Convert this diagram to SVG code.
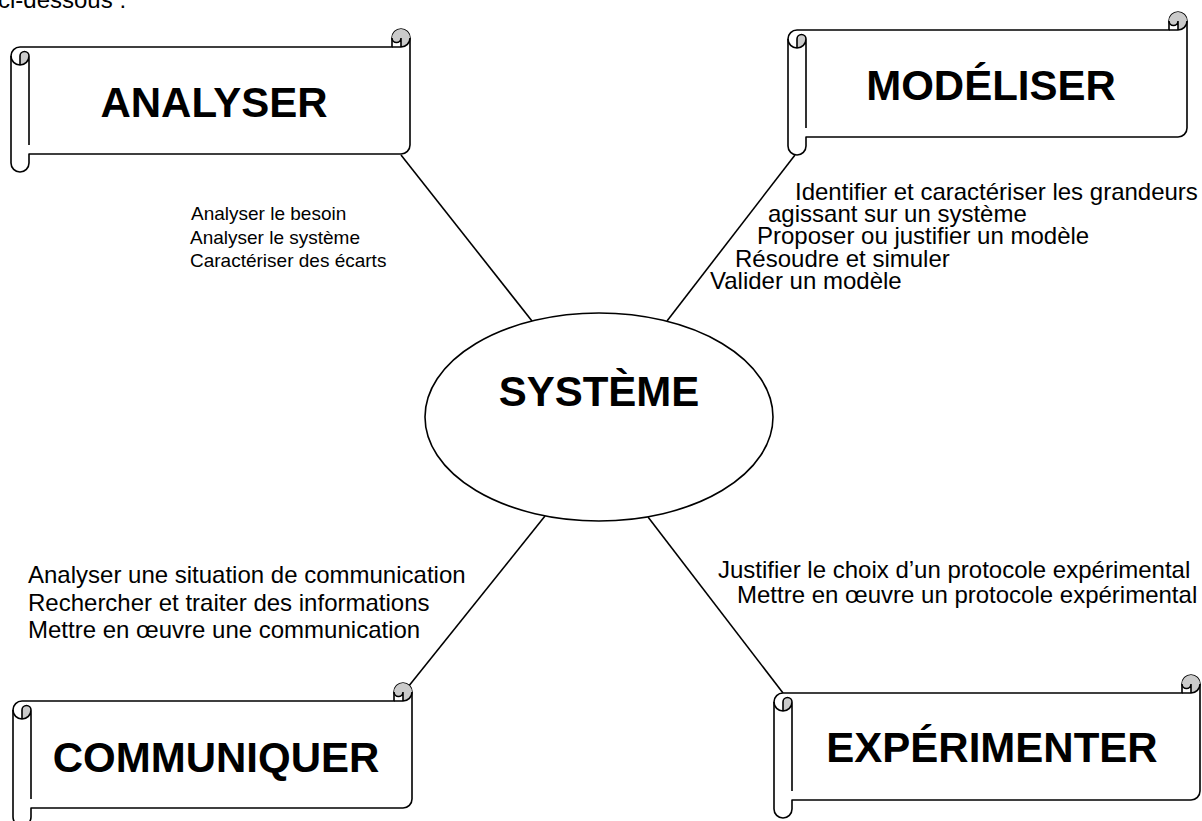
<svg xmlns="http://www.w3.org/2000/svg" xmlns:xlink="http://www.w3.org/1999/xlink" width="1202" height="821" viewBox="0 0 1202 821">
  <style>
    .edge { stroke: #000; stroke-width: 1.6; fill: none; }
    .scroll-body { fill: #fff; stroke: #000; stroke-width: 1.6; stroke-linejoin: round; }
    .scroll-line { fill: none; stroke: #000; stroke-width: 1.6; }
    .scroll-curl { fill: #cbcbcb; stroke: none; }
    .title { font-family: "Liberation Sans", Arial, sans-serif; font-weight: bold; font-size: 42px; fill: #000; text-anchor: middle; }
    .item { font-family: "Liberation Sans", Arial, sans-serif; font-size: 24px; fill: #000; }
    .item-small { font-family: "Liberation Sans", Arial, sans-serif; font-size: 19px; fill: #000; }
  </style>
  <defs>
    <!-- horizontal scroll banner, 399 wide, 143 high -->
    <g id="scroll399">
      <path class="scroll-body" d="M0,27 A9,9 0 0 1 9,18 L381,18 L381,9 A9,9 0 0 1 399,9 L399,116 A9,9 0 0 1 390,125 L18,125 L18,134 A9,9 0 0 1 0,134 Z"/>
      <path class="scroll-curl" d="M9,36 A9,9 0 0 0 18,27 A4.5,4.5 0 0 0 9,27 Z M390,18 A9,9 0 1 0 381,9 A4.5,4.5 0 0 0 390,9 Z"/>
      <path class="scroll-line" d="M381,18 L390,18 A9,9 0 0 0 399,9 M390,18 L390,9 A4.5,4.5 0 0 1 381,9 M9,36 L9,27 A4.5,4.5 0 0 1 18,27 A9,9 0 0 1 0,27 M18,27 L18,116"/>
    </g>
    <!-- wider variant, 426 wide -->
    <g id="scroll426">
      <path class="scroll-body" d="M0,27 A9,9 0 0 1 9,18 L408,18 L408,9 A9,9 0 0 1 426,9 L426,116 A9,9 0 0 1 417,125 L18,125 L18,134 A9,9 0 0 1 0,134 Z"/>
      <path class="scroll-curl" d="M9,36 A9,9 0 0 0 18,27 A4.5,4.5 0 0 0 9,27 Z M417,18 A9,9 0 1 0 408,9 A4.5,4.5 0 0 0 417,9 Z"/>
      <path class="scroll-line" d="M408,18 L417,18 A9,9 0 0 0 426,9 M417,18 L417,9 A4.5,4.5 0 0 1 408,9 M9,36 L9,27 A4.5,4.5 0 0 1 18,27 A9,9 0 0 1 0,27 M18,27 L18,116"/>
    </g>
  </defs>

  <rect width="1202" height="821" fill="#fff"/>

  <!-- line of running text above the figure, clipped by the page edge -->
  <text class="item" x="-2" y="8">ci-dessous :</text>

  <!-- connectors from the central ellipse to each banner -->
  <g id="connectors">
    <line class="edge" x1="401" y1="155" x2="532" y2="321"/>
    <line class="edge" x1="795" y1="155" x2="667" y2="321"/>
    <line class="edge" x1="545" y1="516" x2="404" y2="692"/>
    <line class="edge" x1="648" y1="517" x2="783" y2="693"/>
  </g>

  <g id="node-systeme">
    <ellipse cx="599" cy="417" rx="174" ry="104" fill="#fff" stroke="#000" stroke-width="1.6"/>
    <text class="title" x="599" y="406">SYSTÈME</text>
  </g>

  <g id="node-analyser">
    <use xlink:href="#scroll399" href="#scroll399" transform="translate(11,29)"/>
    <text class="title" x="214" y="117">ANALYSER</text>
  </g>

  <g id="node-modeliser">
    <use xlink:href="#scroll399" href="#scroll399" transform="translate(788,12)"/>
    <text class="title" x="991" y="100">MODÉLISER</text>
  </g>

  <g id="node-communiquer">
    <use xlink:href="#scroll399" href="#scroll399" transform="translate(13,683)"/>
    <text class="title" x="216" y="772">COMMUNIQUER</text>
  </g>

  <g id="node-experimenter">
    <use xlink:href="#scroll426" href="#scroll426" transform="translate(774,675)"/>
    <text class="title" x="992" y="762">EXPÉRIMENTER</text>
  </g>

  <!-- skill lists beside each connector -->
  <g id="label-analyser">
    <text class="item-small" x="191" y="220">Analyser le besoin</text>
    <text class="item-small" x="190" y="244">Analyser le système</text>
    <text class="item-small" x="190" y="267">Caractériser des écarts</text>
  </g>
  <g id="label-modeliser">
    <text class="item" x="795" y="200">Identifier et caractériser les grandeurs</text>
    <text class="item" x="768" y="222">agissant sur un système</text>
    <text class="item" x="757" y="244">Proposer ou justifier un modèle</text>
    <text class="item" x="735" y="267">Résoudre et simuler</text>
    <text class="item" x="710" y="289">Valider un modèle</text>
  </g>
  <g id="label-communiquer">
    <text class="item" x="28" y="583">Analyser une situation de communication</text>
    <text class="item" x="28" y="611">Rechercher et traiter des informations</text>
    <text class="item" x="28" y="638">Mettre en œuvre une communication</text>
  </g>
  <g id="label-experimenter">
    <text class="item" x="718" y="578">Justifier le choix d’un protocole expérimental</text>
    <text class="item" x="737" y="603">Mettre en œuvre un protocole expérimental</text>
  </g>
</svg>
